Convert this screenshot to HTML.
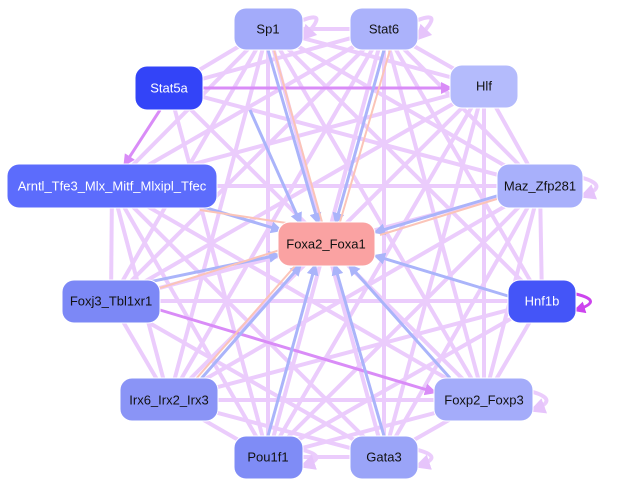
<!DOCTYPE html>
<html><head><meta charset="utf-8"><style>
body{margin:0;background:#fff}
svg{display:block}
text{font-family:"Liberation Sans",sans-serif;font-size:13px;text-anchor:middle;dominant-baseline:central}
</style></head><body>
<svg width="619" height="489" viewBox="0 0 619 489" xmlns="http://www.w3.org/2000/svg">
<defs>
<marker id="a" markerWidth="4" markerHeight="4" refX="3" refY="2" orient="auto" markerUnits="strokeWidth"><path d="M0,0L4,2L0,4z" fill="#e6c4fb"/></marker>
<marker id="b" markerWidth="4" markerHeight="4" refX="3" refY="2" orient="auto" markerUnits="strokeWidth"><path d="M0,0L4,2L0,4z" fill="#aab4fa"/></marker>
<marker id="c" markerWidth="4" markerHeight="4" refX="3" refY="2" orient="auto" markerUnits="strokeWidth"><path d="M0,0L4,2L0,4z" fill="#cc44ee"/></marker>
<marker id="d" markerWidth="4" markerHeight="4" refX="3" refY="2" orient="auto" markerUnits="strokeWidth"><path d="M0,0L4,2L0,4z" fill="#d98cf7"/></marker>
</defs>
<g stroke="#ebccfc" stroke-width="4" fill="none" marker-end="url(#a)">
<line x1="268" y1="29" x2="384" y2="29"/>
<line x1="268" y1="29" x2="169" y2="88"/>
<line x1="268" y1="29" x2="484" y2="86"/>
<line x1="268" y1="29" x2="112" y2="186"/>
<line x1="268" y1="29" x2="540" y2="186"/>
<line x1="268" y1="29" x2="111" y2="301"/>
<line x1="268" y1="29" x2="542" y2="301"/>
<line x1="268" y1="29" x2="169" y2="400"/>
<line x1="268" y1="29" x2="484" y2="400"/>
<line x1="268" y1="29" x2="268" y2="457"/>
<line x1="268" y1="29" x2="384" y2="457"/>
<line x1="384" y1="29" x2="169" y2="88"/>
<line x1="384" y1="29" x2="484" y2="86"/>
<line x1="384" y1="29" x2="112" y2="186"/>
<line x1="384" y1="29" x2="540" y2="186"/>
<line x1="384" y1="29" x2="111" y2="301"/>
<line x1="384" y1="29" x2="542" y2="301"/>
<line x1="384" y1="29" x2="169" y2="400"/>
<line x1="384" y1="29" x2="484" y2="400"/>
<line x1="384" y1="29" x2="268" y2="457"/>
<line x1="384" y1="29" x2="384" y2="457"/>
<line x1="169" y1="88" x2="540" y2="186"/>
<line x1="169" y1="88" x2="484" y2="400"/>
<line x1="169" y1="88" x2="268" y2="457"/>
<line x1="484" y1="86" x2="112" y2="186"/>
<line x1="484" y1="86" x2="540" y2="186"/>
<line x1="484" y1="86" x2="111" y2="301"/>
<line x1="484" y1="86" x2="169" y2="400"/>
<line x1="484" y1="86" x2="484" y2="400"/>
<line x1="484" y1="86" x2="268" y2="457"/>
<line x1="484" y1="86" x2="384" y2="457"/>
<line x1="112" y1="186" x2="540" y2="186"/>
<line x1="112" y1="186" x2="111" y2="301"/>
<line x1="112" y1="186" x2="169" y2="400"/>
<line x1="112" y1="186" x2="484" y2="400"/>
<line x1="112" y1="186" x2="268" y2="457"/>
<line x1="112" y1="186" x2="384" y2="457"/>
<line x1="540" y1="186" x2="111" y2="301"/>
<line x1="540" y1="186" x2="542" y2="301"/>
<line x1="540" y1="186" x2="169" y2="400"/>
<line x1="540" y1="186" x2="484" y2="400"/>
<line x1="540" y1="186" x2="268" y2="457"/>
<line x1="540" y1="186" x2="384" y2="457"/>
<line x1="111" y1="301" x2="542" y2="301"/>
<line x1="111" y1="301" x2="169" y2="400"/>
<line x1="111" y1="301" x2="384" y2="457"/>
<line x1="542" y1="301" x2="169" y2="400"/>
<line x1="542" y1="301" x2="484" y2="400"/>
<line x1="542" y1="301" x2="268" y2="457"/>
<line x1="169" y1="400" x2="484" y2="400"/>
<line x1="169" y1="400" x2="268" y2="457"/>
<line x1="169" y1="400" x2="384" y2="457"/>
<line x1="484" y1="400" x2="268" y2="457"/>
<line x1="484" y1="400" x2="384" y2="457"/>
<line x1="268" y1="457" x2="384" y2="457"/>
<path d="M303,20 Q330,10 303,38"/>
<path d="M418,20 Q445,10 418,38"/>
<path d="M583,178 Q610,186 583,196"/>
<path d="M533,392 Q560,400 533,410"/>
<path d="M418,450 Q445,457 418,466"/>
<path d="M303,450 Q330,457 303,466"/>
</g>
<g stroke="#d98cf7" stroke-width="3" fill="none" marker-end="url(#d)">
<line x1="203" y1="88" x2="450" y2="88"/>
<line x1="160" y1="110" x2="125" y2="164"/>
<line x1="160" y1="310" x2="434" y2="392"/>
</g>
<path d="M576,294 Q605,301 576,310" stroke="#cc44ee" stroke-width="3" fill="none" marker-end="url(#c)"/>
<g stroke="#aab4fa" stroke-width="3" fill="none" marker-end="url(#b)">
<line x1="268" y1="50" x2="318" y2="222"/>
<line x1="384" y1="50" x2="336" y2="222"/>
<line x1="500" y1="195" x2="376" y2="232"/>
<line x1="508" y1="296" x2="376" y2="256"/>
<line x1="111" y1="290" x2="278" y2="255"/>
<line x1="180" y1="200" x2="280" y2="230"/>
<line x1="200" y1="380" x2="300" y2="266"/>
<line x1="268" y1="436" x2="315" y2="266"/>
<line x1="384" y1="436" x2="335" y2="266"/>
<line x1="450" y1="378" x2="350" y2="266"/>
<line x1="250" y1="110" x2="300" y2="222"/>
</g>
<g stroke="#fbc4b8" stroke-width="2" fill="none">
<line x1="274" y1="50" x2="322" y2="222"/>
<line x1="390" y1="50" x2="340" y2="222"/>
<line x1="280" y1="250" x2="160" y2="288"/>
<line x1="300" y1="225" x2="200" y2="210"/>
<line x1="380" y1="235" x2="500" y2="198"/>
<line x1="295" y1="266" x2="195" y2="380"/>
</g>
<g stroke="#fff" stroke-width="1">
<rect x="234" y="8" width="69" height="42" rx="12" fill="#a3abfa"/>
<rect x="350" y="8" width="68" height="42" rx="12" fill="#abb2fb"/>
<rect x="135" y="66" width="68" height="44" rx="12" fill="#3344f8"/>
<rect x="450" y="65" width="68" height="43" rx="12" fill="#b4bbfc"/>
<rect x="7" y="164" width="210" height="44" rx="12" fill="#5c6cfc"/>
<rect x="497" y="164" width="86" height="44" rx="12" fill="#a8b0fb"/>
<rect x="278" y="222" width="97" height="44" rx="12" fill="#faa2a2"/>
<rect x="62" y="280" width="98" height="43" rx="12" fill="#7c88f6"/>
<rect x="508" y="280" width="68" height="43" rx="12" fill="#4455f8"/>
<rect x="120" y="378" width="98" height="43" rx="12" fill="#8a94f6"/>
<rect x="434" y="378" width="99" height="43" rx="12" fill="#a4acfa"/>
<rect x="234" y="436" width="69" height="43" rx="12" fill="#7f8cf6"/>
<rect x="350" y="436" width="68" height="43" rx="12" fill="#9aa4f8"/>
</g>
<g fill="#111">
<text x="268" y="29">Sp1</text>
<text x="384" y="29">Stat6</text>
<text x="169" y="88" fill="#fff">Stat5a</text>
<text x="484" y="86">Hlf</text>
<text x="112" y="186" fill="#fff">Arntl_Tfe3_Mlx_Mitf_Mlxipl_Tfec</text>
<text x="540" y="186">Maz_Zfp281</text>
<text x="326" y="244">Foxa2_Foxa1</text>
<text x="111" y="301">Foxj3_Tbl1xr1</text>
<text x="542" y="301" fill="#fff">Hnf1b</text>
<text x="169" y="400">Irx6_Irx2_Irx3</text>
<text x="484" y="400">Foxp2_Foxp3</text>
<text x="268" y="457">Pou1f1</text>
<text x="384" y="457">Gata3</text>
</g>
</svg>
</body></html>
